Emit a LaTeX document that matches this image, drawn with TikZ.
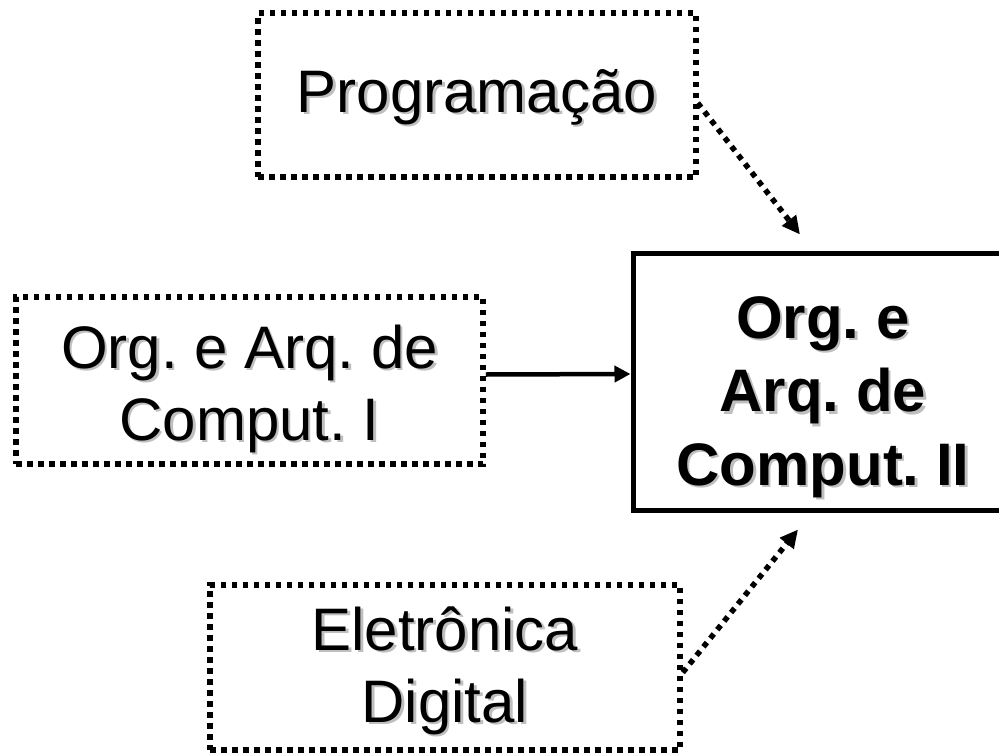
\documentclass[tikz,border=0pt]{standalone}
\usepackage{fontspec}
\setmainfont{Liberation Sans}
\usetikzlibrary{arrows.meta,calc}
\frenchspacing

\tikzset{
  dotbox/.style={draw, line width=5.5pt, dash pattern=on 5.5pt off 5.5pt, inner sep=0pt},
  mainbox/.style={draw, line width=5pt, inner sep=0pt},
  txt/.style={anchor=base, inner sep=0pt, font=\fontsize{60}{72}\selectfont},
  btxt/.style={anchor=base, inner sep=0pt, font=\fontsize{60}{73.5}\selectfont\bfseries},
  dotarrow/.style={line width=5.5pt, dash pattern=on 5.5pt off 5.5pt,
    -{Triangle[length=18pt,width=17pt]}},
  solidarrow/.style={line width=4.5pt, -{Triangle[length=16pt,width=16pt]}},
}

% text with a soft grey drop shadow: name, base point, style, text
\newcommand\shtext[4]{%
  \node[#3, text=black!25] (#1-sh) at ($(#2)+(2.5,2.5)$) {#4};
  \node[#3] (#1) at (#2) {#4};}

\begin{document}
\begin{tikzpicture}[x=1pt, y=-1pt]
  \useasboundingbox (0,0) rectangle (999,755);

  % boxes
  \node[dotbox, minimum width=438pt, minimum height=164pt] (prog) at (477,95) {};
  \node[dotbox, minimum width=467pt, minimum height=167pt] (orgI) at (249.5,380.5) {};
  \node[dotbox, minimum width=470pt, minimum height=165pt] (elet) at (445,667.5) {};
  \node[mainbox, minimum width=380pt, minimum height=257pt] (main) at (823,381.5) {};

  % labels
  \shtext{progtxt}{477,112}{txt}{Programação}
  \shtext{orgItxt}{249.5,368}{txt}{\begin{tabular}[t]{@{}c@{}}Org. e Arq. de\\Comput. I\end{tabular}}
  \shtext{elettxt}{445,650}{txt}{\begin{tabular}[t]{@{}c@{}}Eletrônica\\Digital\end{tabular}}
  \shtext{maintxt}{823,338}{btxt}{\begin{tabular}[t]{@{}c@{}}Org. e\\Arq. de\\Comput. II\end{tabular}}

  % connectors
  \draw[dotarrow] ($(prog.east)+(-1,8)$) -- ($(main.north)+(-23,-16)$);
  \draw[solidarrow] ($(orgI.east)+(0,-6)$) -- ($(main.west)+(0,-7.5)$);
  \draw[dotarrow] ($(elet.east)+(0,5)$) -- ($(main.south)+(-25,17)$);
\end{tikzpicture}
\end{document}
